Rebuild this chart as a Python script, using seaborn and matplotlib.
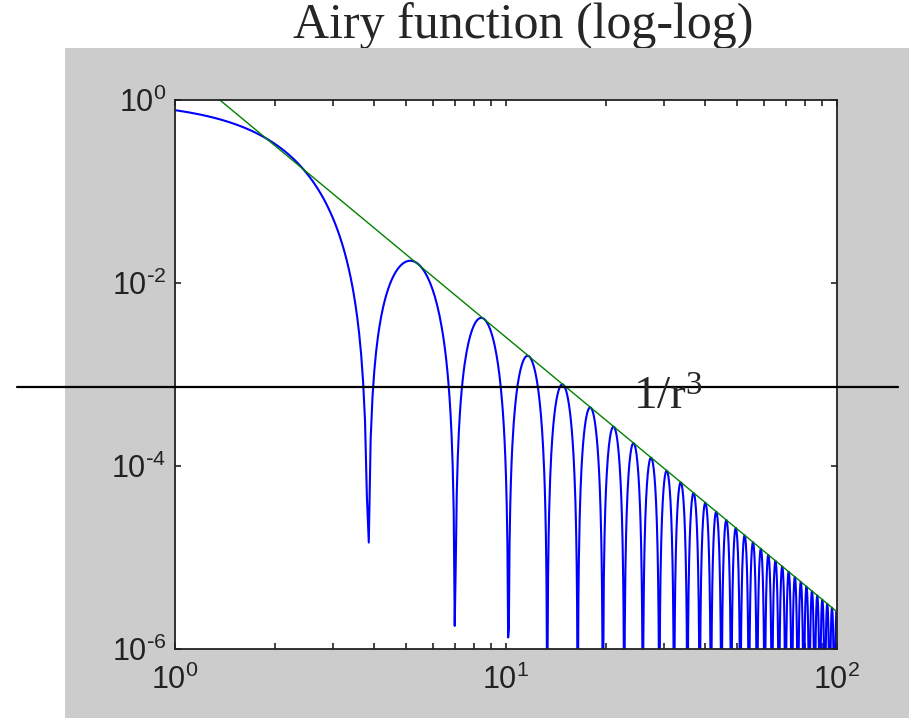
import numpy as np
import pandas as pd
import matplotlib
matplotlib.use("Agg")
import matplotlib.pyplot as plt
from matplotlib.patches import Rectangle
from matplotlib.lines import Line2D
from matplotlib.ticker import FixedLocator, FixedFormatter, NullFormatter
import seaborn as sns

# ---- data -------------------------------------------------------------
title_text = "Airy function (log-log)"
annot_text = r"$\mathregular{1/r^3}$"
r_start, r_stop, r_step = 1.0, 100.0, 0.05          # sampling of the Airy curve
envelope_r = [1.0, 100.0]                            # 1/r^3 asymptote endpoints
envelope_I = [2.55, 2.55e-6]
x_ticks = [1, 10, 100]
x_tick_labels = [r"$\mathregular{10^{0}}$", r"$\mathregular{10^{1}}$", r"$\mathregular{10^{2}}$"]
x_minor = [2, 3, 4, 5, 6, 7, 8, 9, 20, 30, 40, 50, 60, 70, 80, 90]
y_ticks = [1e-6, 1e-4, 1e-2, 1]
y_tick_labels = [r"$\mathregular{10^{\text{-}6}}$", r"$\mathregular{10^{\text{-}4}}$",
                 r"$\mathregular{10^{\text{-}2}}$", r"$\mathregular{10^{0}}$"]

# Airy pattern intensity (2 J1(r)/r)^2 on the sampled grid
n_pts = int(round((r_stop - r_start) / r_step)) + 1
r = np.linspace(r_start, r_stop, n_pts)
tau = np.linspace(0.0, np.pi, 2001)
j1 = np.trapezoid(np.cos(tau[None, :] - r[:, None] * np.sin(tau[None, :])), tau, axis=1) / np.pi
intensity = (2.0 * j1 / r) ** 2
airy = pd.DataFrame({"r": r, "I": intensity})
env = pd.DataFrame({"r": envelope_r, "I": envelope_I})

# ---- figure -----------------------------------------------------------
sns.set_style("white")
plt.rcParams["font.family"] = ["Liberation Sans", "DejaVu Sans"]

W, H = 909, 718
fig = plt.figure(figsize=(W / 100, H / 100), dpi=100, facecolor="white")

# grey panel
fig.patches.append(Rectangle((65 / W, 0), (W - 65) / W, (H - 48) / H,
                             transform=fig.transFigure, facecolor="#cccccc",
                             edgecolor="none", zorder=-1))
# slide title (partly under the grey panel)
fig.text(523 / W, 1 - 38 / H, title_text, ha="center", va="baseline",
         fontsize=36, family="Liberation Serif", zorder=-2)

ax = fig.add_axes([175 / W, 1 - 649 / H, 662 / W, 549 / H], zorder=0)
ax.set_facecolor("white")

sns.lineplot(data=airy, x="r", y="I", ax=ax, color=(0, 0, 1), lw=1.5,
             estimator=None, sort=False, legend=False)
sns.lineplot(data=env, x="r", y="I", ax=ax, color=(0, 0.5, 0), lw=1.0,
             estimator=None, sort=False, legend=False)

ax.set_xscale("log")
ax.set_yscale("log")
ax.set_xlim(1, 100)
ax.set_ylim(1e-6, 1)
ax.set_xlabel("")
ax.set_ylabel("")

ax.xaxis.set_major_locator(FixedLocator(x_ticks))
ax.xaxis.set_major_formatter(FixedFormatter(x_tick_labels))
ax.xaxis.set_minor_locator(FixedLocator(x_minor))
ax.xaxis.set_minor_formatter(NullFormatter())
ax.yaxis.set_major_locator(FixedLocator(y_ticks))
ax.yaxis.set_major_formatter(FixedFormatter(y_tick_labels))
ax.yaxis.set_minor_locator(FixedLocator([]))

for s in ax.spines.values():
    s.set_visible(True)
    s.set_color("#222222")
    s.set_linewidth(1.3)

ax.tick_params(which="both", direction="in", top=True, right=True,
               bottom=True, left=True, length=4, width=1.2, color="#222222",
               labelsize=22, labelcolor="#222222")
ax.tick_params(axis="x", which="major", pad=11)
ax.tick_params(axis="y", which="major", pad=6)

# slide annotation: horizontal rule and 1/r^3 label
fig.add_artist(Line2D([17 / W, 898 / W], [1 - 387 / H, 1 - 387 / H],
                      transform=fig.transFigure, color="black", lw=1.6, zorder=5))
fig.text(633 / W, 1 - 410 / H, annot_text, ha="left", va="baseline",
         fontsize=34, family="Liberation Serif", zorder=6)

fig.savefig("out.png", dpi=100, facecolor="white")
